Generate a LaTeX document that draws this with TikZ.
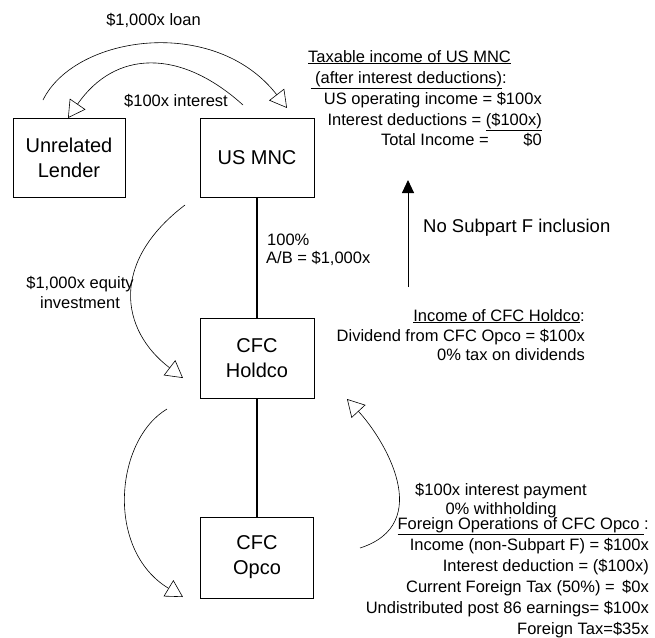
\documentclass[tikz,border=0pt]{standalone}
\usepackage{fontspec}
\setmainfont{Liberation Sans}
\usetikzlibrary{arrows.meta}
\newcommand{\lblf}{\fontsize{16.5}{20}\selectfont}
\newcommand{\bigf}{\fontsize{18.5}{22}\selectfont}
\newcommand{\boxf}{\fontsize{20}{25}\selectfont}
\begin{document}
\begin{tikzpicture}[x=1pt,y=-1pt,
  entity/.style={draw, line width=0.8pt, align=center, font=\boxf, inner sep=0pt},
  lbl/.style={inner sep=0pt, font=\lblf},
  own/.style={line width=1.4pt},
  flow/.style={line width=0.6pt, -{Triangle[open,length=17pt,width=19pt]}},
  noinc/.style={line width=0.9pt, -{Triangle[length=13pt,width=12pt]}}]
\useasboundingbox (0,0) rectangle (655,637);

% entities
\node[entity, minimum width=112pt, minimum height=79pt] (lender) at (69,157.5) {Unrelated\\Lender};
\node[entity, minimum width=114pt, minimum height=79pt] (usmnc) at (257,157.5) {US MNC};
\node[entity, minimum width=114pt, minimum height=80pt] (holdco) at (257,358) {CFC\\Holdco};
\node[entity, minimum width=113pt, minimum height=81pt] (opco) at (257,557.5) {CFC\\Opco};

% ownership lines
\draw[own] (usmnc.south) -- (holdco.north);
\draw[own] (holdco.south) -- (opco.north);

% arc end points
\coordinate (loanS) at (43,100);
\coordinate (loanE) at (287,108);
\coordinate (intS) at (243,105);
\coordinate (intE) at (68,118);
\coordinate (eqS) at (185,205);
\coordinate (eqE) at (183,378);
\coordinate (lowS) at (167,409);
\coordinate (lowE) at (183,597);
\coordinate (payS) at (360,548);
\coordinate (payE) at (347,399);
\coordinate (upS) at (408,287);
\coordinate (upE) at (408,180);

% flows
\draw[flow] (loanS) .. controls (75,35) and (215,15) .. (loanE);
\draw[flow] (intS) .. controls (180,48) and (115,50) .. (intE);
\draw[flow] (eqS) .. controls (110,262) and (120,330) .. (eqE);
\draw[flow] (lowS) .. controls (115,440) and (105,550) .. (lowE);
\draw[flow] (payS) .. controls (435,524) and (385,440) .. (payE);
\draw[noinc] (upS) -- (upE);

% flow labels
\node[lbl, anchor=base] (loanL) at (153.5,25) {\$1,000x loan};
\node[lbl, anchor=base] (intL) at (176,106) {\$100x interest};
\node[lbl, anchor=base west] (pctL) at (267,245) {100\%};
\node[lbl, anchor=base west] (abL) at (266,263) {A/B = \$1,000x};
\node[lbl, anchor=base] (eqL1) at (80,288) {\$1,000x equity};
\node[lbl, anchor=base] (eqL2) at (80,308) {investment};
\node[lbl, font=\bigf, anchor=base west] (noL) at (423,232) {No Subpart F inclusion};
\node[lbl, anchor=base] (payL1) at (501,495) {\$100x interest payment};
\node[lbl, anchor=base] (payL2) at (501,514) {0\% withholding};

% taxable income of US MNC
\node[lbl, anchor=base west] (t1) at (308,62) {\underline{Taxable income of US MNC}};
\node[lbl, anchor=base east] (t2) at (507,83) {\underline{\ (after interest deductions)}:};
\node[lbl, anchor=base east] (t3) at (542,104) {US operating income = \$100x};
\node[lbl, anchor=base east] (t4) at (542,125) {Interest deductions = \underline{(\$100x)}};
\node[lbl, anchor=base east] (t5) at (542,145) {Total Income =\hspace{2.1em}\$0};

% income of CFC Holdco
\node[lbl, anchor=base east] (h1) at (585,321) {\underline{Income of CFC Holdco}:};
\node[lbl, anchor=base east] (h2) at (585,341) {Dividend from CFC Opco = \$100x};
\node[lbl, anchor=base east] (h3) at (585,360) {0\% tax on dividends};

% foreign operations of CFC Opco
\node[lbl, anchor=base east] (o1) at (649,529) {\underline{Foreign Operations of CFC Opco\ }:};
\node[lbl, anchor=base east] (o2) at (649,550) {Income (non-Subpart F) = \$100x};
\node[lbl, anchor=base east] (o3) at (649,571) {Interest deduction = (\$100x)};
\node[lbl, anchor=base east] (o4) at (649,592) {Current Foreign Tax (50\%) =\hspace{0.45em}\$0x};
\node[lbl, anchor=base east] (o5) at (649,613) {Undistributed post 86 earnings= \$100x};
\node[lbl, anchor=base east] (o6) at (649,634) {Foreign Tax=\$35x};
\end{tikzpicture}
\end{document}
